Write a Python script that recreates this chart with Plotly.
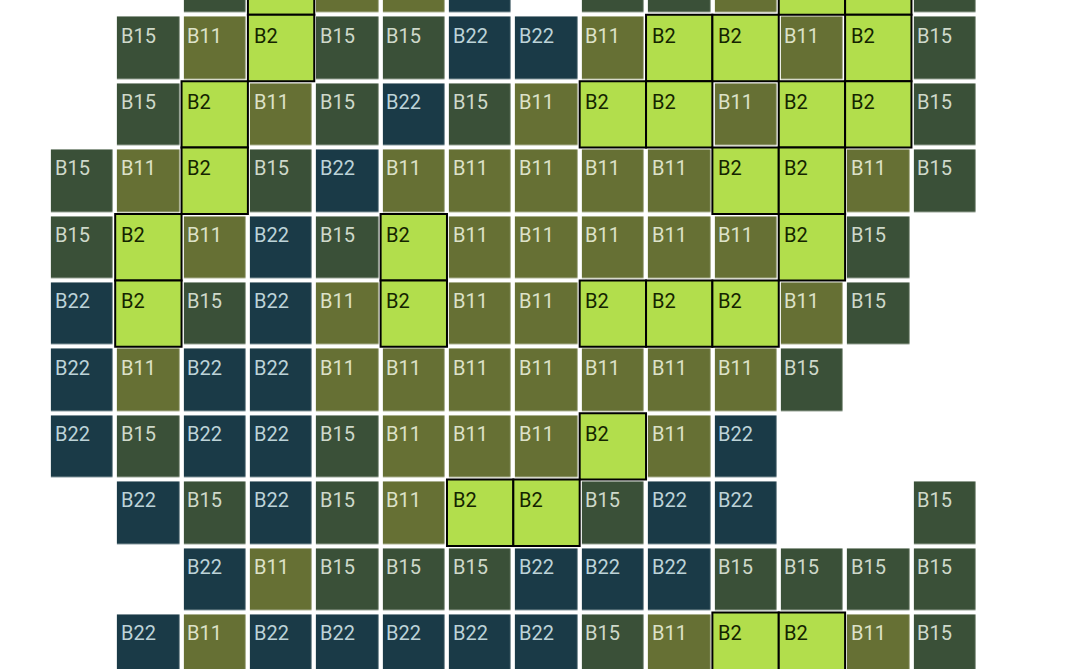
import plotly.graph_objects as go

# cell labels per row, top row is cut off by the picture edge
row0 = [None, None, 'B15', 'B2', 'B11', 'B11', 'B22', None, 'B15', 'B15', 'B11', 'B2', 'B2', 'B15']
row1 = [None, 'B15', 'B11', 'B2', 'B15', 'B15', 'B22', 'B22', 'B11', 'B2', 'B2', 'B11', 'B2', 'B15']
row2 = [None, 'B15', 'B2', 'B11', 'B15', 'B22', 'B15', 'B11', 'B2', 'B2', 'B11', 'B2', 'B2', 'B15']
row3 = ['B15', 'B11', 'B2', 'B15', 'B22', 'B11', 'B11', 'B11', 'B11', 'B11', 'B2', 'B2', 'B11', 'B15']
row4 = ['B15', 'B2', 'B11', 'B22', 'B15', 'B2', 'B11', 'B11', 'B11', 'B11', 'B11', 'B2', 'B15', None]
row5 = ['B22', 'B2', 'B15', 'B22', 'B11', 'B2', 'B11', 'B11', 'B2', 'B2', 'B2', 'B11', 'B15', None]
row6 = ['B22', 'B11', 'B22', 'B22', 'B11', 'B11', 'B11', 'B11', 'B11', 'B11', 'B11', 'B15', None, None]
row7 = ['B22', 'B15', 'B22', 'B22', 'B15', 'B11', 'B11', 'B11', 'B2', 'B11', 'B22', None, None, None]
row8 = [None, 'B22', 'B15', 'B22', 'B15', 'B11', 'B2', 'B2', 'B15', 'B22', 'B22', None, None, 'B15']
row9 = [None, None, 'B22', 'B11', 'B15', 'B15', 'B15', 'B22', 'B22', 'B22', 'B15', 'B15', 'B15', 'B15']
row10 = [None, 'B22', 'B11', 'B22', 'B22', 'B22', 'B22', 'B22', 'B15', 'B11', 'B2', 'B2', 'B11', 'B15']
rows = [row0, row1, row2, row3, row4, row5, row6, row7, row8, row9, row10]

categories = ['B22', 'B15', 'B11', 'B2']
cell_colors = ['#1a3a47', '#3a5038', '#667034', '#b2de4c']
text_colors = ['#bdd3d8', '#cfd9ca', '#dde2c8', '#142400']

z = [[categories.index(c) if c else None for c in row] for row in rows]

colorscale = []
for i, color in enumerate(cell_colors):
    colorscale.append((i / 4, color))
    colorscale.append(((i + 1) / 4, color))

fig = go.Figure()
fig.add_trace(go.Heatmap(z=z, zmin=-0.5, zmax=3.5, colorscale=colorscale, showscale=False,
                         xgap=4.4, ygap=4.4, hoverongaps=False,
                         text=rows, hovertemplate='%{text}<extra></extra>'))

for r, row in enumerate(rows):
    for c, label in enumerate(row):
        if label is None:
            continue
        if label == 'B2':
            # high cells get a black outline
            fig.add_shape(type='rect', x0=c - 0.5, x1=c + 0.5, y0=r - 0.5, y1=r + 0.5,
                          fillcolor=cell_colors[3], line=dict(color='black', width=2))
        fig.add_annotation(x=c, y=r, text=label, showarrow=False, xanchor='left', yanchor='top',
                           xshift=-28.5, yshift=25.5, borderpad=0,
                           font=dict(family='Roboto', size=20, color=text_colors[categories.index(label)]))

fig.update_layout(
    width=1080,
    height=669,
    margin=dict(l=0, r=0, t=0, b=0),
    paper_bgcolor='white',
    plot_bgcolor='white',
    xaxis=dict(visible=False, range=[-1.236, 15.04]),
    yaxis=dict(visible=False, range=[10.352, 0.277]),
)

fig.write_html("out.html", config=dict(displayModeBar=False),
               post_script="document.body.style.margin = '0';")
